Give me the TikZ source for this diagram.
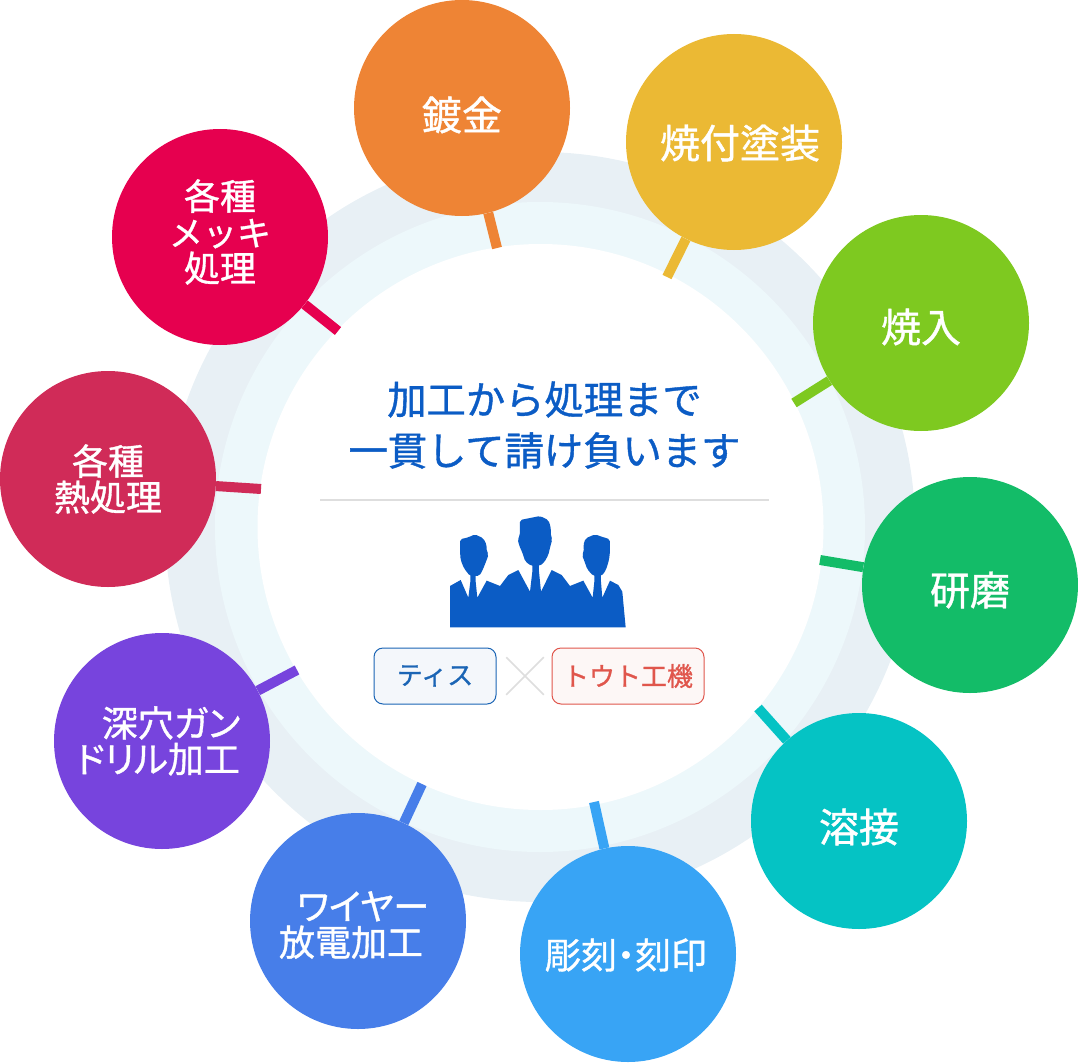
\documentclass[tikz,border=0pt]{standalone}
\usepackage{fontspec}
\usetikzlibrary{shapes.misc}
\newfontfamily\cjkfont[FakeBold = 1]{Noto Sans CJK JP}
\newfontfamily\cjkpalt[FakeBold = 1, RawFeature = {+palt}]{Noto Sans CJK JP}
\definecolor{ringouter}{HTML}{E8F0F5}
\definecolor{ringinner}{HTML}{EDF8FB}
\definecolor{headblue}{HTML}{0B5CC5}
\definecolor{tisblue}{HTML}{1B65B5}
\definecolor{toutored}{HTML}{E0564C}
\definecolor{cplating}{HTML}{EE8435}
\definecolor{cpaint}{HTML}{EBB934}
\definecolor{cquench}{HTML}{7EC920}
\definecolor{cgrind}{HTML}{13BC68}
\definecolor{cweld}{HTML}{05C3C4}
\definecolor{cengrave}{HTML}{38A4F5}
\definecolor{cwire}{HTML}{477EE9}
\definecolor{cdrill}{HTML}{7744DD}
\definecolor{cheat}{HTML}{D02B58}
\definecolor{cmekki}{HTML}{E6004F}
\tikzset{
	bubble/.style = {shape = circle, minimum size = 216 pt, inner sep = 0 pt, fill = #1},
	spoke/.style = {line width = 10 pt, draw = #1},
	bigtext/.style = {text = white, align = center, font = \cjkfont\fontsize{40}{40}\selectfont},
	smalltext/.style = {text = white, align = center, font = \cjkpalt\fontsize{36}{36}\selectfont},
	ring/.style = {shape = circle, inner sep = 0 pt, minimum size = #1},
	company/.style = {shape = rectangle, rounded corners = 9 pt, line width = 1 pt, inner sep = 0 pt, font = \cjkfont\fontsize{26}{26}\selectfont},
	person/.style = {fill = headblue, draw = none},
	face/.style = {person, rounded corners = 2 pt}
}
\begin{document}
\begin{tikzpicture}[x = 1 pt, y = -1 pt]
		\useasboundingbox (0,0) rectangle (1078,1062);
		\node[ring = 750 pt, fill = ringouter] (outer) at (540,527) {};
		\node[ring = 650 pt, fill = ringinner] (middle) at (540,527) {};
		\node[ring = 566 pt, fill = white] (inner) at (540.5,527) {};

		\node[bubble = cplating] (plating) at (462,108) {};
		\node[bubble = cpaint] (paint) at (734,142) {};
		\node[bubble = cquench] (quench) at (921,323) {};
		\node[bubble = cgrind] (grind) at (970,585) {};
		\node[bubble = cweld] (weld) at (859,821) {};
		\node[bubble = cengrave] (engrave) at (628,954) {};
		\node[bubble = cwire] (wire) at (358,921) {};
		\node[bubble = cdrill] (drill) at (162,741) {};
		\node[bubble = cheat] (heat) at (108,479) {};
		\node[bubble = cmekki] (mekki) at (220,237) {};

		\node[bigtext] (platinglabel) at (462,115) {鍍金};
		\node[bigtext] (paintlabel) at (740,143) {焼付塗装};
		\node[bigtext] (quenchlabel) at (921,327) {焼入};
		\node[bigtext] (grindlabel) at (970,590) {研磨};
		\node[bigtext] (weldlabel) at (859,827) {溶接};
		\node[smalltext] (engravelabel) at (626,955) {彫刻・刻印};
		\node[smalltext] (wirelabel) at (351,925) {\hspace*{24 pt}ワイヤー\\[0 pt]放電加工};
		\node[smalltext] (drilllabel) at (158,741) {\hspace*{26 pt}深穴ガン\\[0 pt]ドリル加工};
		\node[smalltext] (heatlabel) at (108,479) {各種\\[0 pt]熱処理};
		\node[smalltext] (mekkilabel) at (220,232) {各種\\[0 pt]{\cjkfont\fontsize{34}{36}\selectfont メッキ}\\[0 pt]処理};

		\coordinate (platingend) at (497,248);
		\coordinate (paintend) at (667,277);
		\coordinate (quenchend) at (794,403);
		\coordinate (grindend) at (820,560);
		\coordinate (weldend) at (758,708);
		\coordinate (engraveend) at (594,802);
		\coordinate (wireend) at (422,784);
		\coordinate (drillend) at (297,670);
		\coordinate (heatend) at (261,489);
		\coordinate (mekkiend) at (338,331);
		\draw[spoke = cplating] (plating) -- (platingend);
		\draw[spoke = cpaint] (paint) -- (paintend);
		\draw[spoke = cquench] (quench) -- (quenchend);
		\draw[spoke = cgrind] (grind) -- (grindend);
		\draw[spoke = cweld] (weld) -- (weldend);
		\draw[spoke = cengrave] (engrave) -- (engraveend);
		\draw[spoke = cwire] (wire) -- (wireend);
		\draw[spoke = cdrill] (drill) -- (drillend);
		\draw[spoke = cheat] (heat) -- (heatend);
		\draw[spoke = cmekki] (mekki) -- (mekkiend);

		\node[text = headblue, align = center, font = \cjkfont\fontsize{39.3}{51}\selectfont] (slogan) at (544.5,425) {加工から処理まで\\一貫して請け負います};
		\coordinate (ruleleft) at (320,500);
		\coordinate (ruleright) at (769,500);
		\draw[line width = 1.5 pt, draw = black!13] (ruleleft) -- (ruleright);

		% three silhouettes
		\begin{scope} [shift = {(440,510)}, scale = 0.3333]
			\fill[person] (30,352) -- (30,228) -- (62,210) -- (85,263) -- (91,215) -- (91,190) -- (107,190) -- (107,215)
				-- (112,263) -- (140,212) -- (180,228) -- (205,195) -- (235,180) -- (270,245) -- (277,185) -- (277,160)
				-- (297,160) -- (297,185) -- (303,245) -- (335,180) -- (365,195) -- (390,228) -- (430,212) -- (458,263)
				-- (463,215) -- (463,190) -- (483,190) -- (483,215) -- (487,263) -- (510,212) -- (535,225) -- (547,245)
				-- (557,352) -- cycle;
			\fill[face] (240,30) -- (265,25) -- (300,18) -- (325,30) -- (332,50) -- (333,80) -- (337,88) -- (332,105)
				-- (325,135) -- (312,158) -- (298,168) -- (275,168) -- (256,155) -- (246,125) -- (238,108) -- (233,88)
				-- (240,75) -- cycle;
			\fill[face] (60,88) -- (85,82) -- (105,73) -- (130,85) -- (140,105) -- (140,125) -- (146,133) -- (140,150)
				-- (128,180) -- (118,198) -- (90,198) -- (72,175) -- (62,150) -- (60,125) -- cycle;
			\fill[face] (510,88) -- (485,80) -- (465,73) -- (437,85) -- (430,105) -- (432,125) -- (426,135) -- (432,150)
				-- (442,178) -- (460,198) -- (485,198) -- (498,180) -- (507,150) -- (510,125) -- cycle;
		\end{scope}

		\node[company, draw = tisblue, fill = tisblue!5, text = tisblue, minimum width = 122 pt, minimum height = 56 pt] (tis) at (435,676) {ティス};
		\node[company, draw = toutored, fill = toutored!5, text = toutored, minimum width = 152 pt, minimum height = 56 pt] (touto) at (628,676) {トウト工機};
		\node[shape = cross out, draw = black!13, line width = 1.5 pt, minimum size = 36 pt, inner sep = 0 pt] (times) at (525,676) {};
	\end{tikzpicture}
\end{document}
